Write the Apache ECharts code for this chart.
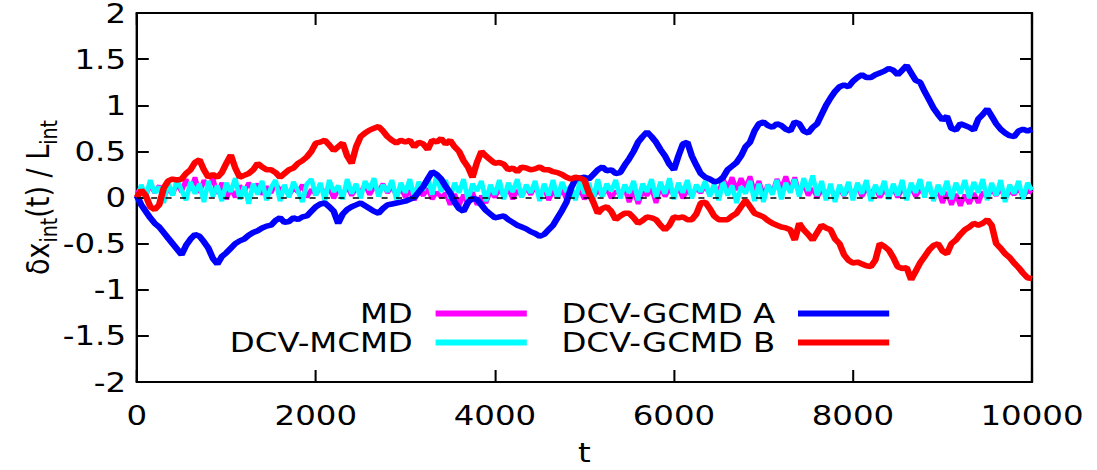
<!DOCTYPE html>
<html>
<head>
<meta charset="utf-8">
<script src="https://cdn.jsdelivr.net/npm/echarts@6/dist/echarts.min.js"></script>
<style>
html,body{margin:0;padding:0;background:#fff;overflow:hidden;}
#wrap{width:1097px;height:470px;overflow:hidden;}
#chart{width:914px;height:470px;transform:scaleX(1.2);transform-origin:0 0;}
</style>
</head>
<body>
<div id="wrap"><div id="chart"></div></div>
<script>
// time step between samples (t units)
const tStep = 50;
const xTicks = [0, 2000, 4000, 6000, 8000, 10000];
const yTicks = [-2, -1.5, -1, -0.5, 0, 0.5, 1, 1.5, 2];
const seriesNames = ['MD', 'DCV-MCMD', 'DCV-GCMD A', 'DCV-GCMD B'];

const md = [
 0.04, 0.12, 0.02, 0.14, 0.05, 0.13, 0.0, 0.1, 0.03, 0.15,
 0.06, 0.2, 0.08, 0.22, 0.05, 0.19, 0.1, 0.21, 0.04, 0.16,
 -0.02, 0.1, 0.0, 0.13, 0.06, 0.16, 0.08, 0.15, 0.03, 0.12,
 0.05, 0.15, 0.08, 0.12, 0.02, 0.1, 0.06, 0.14, 0.0, 0.09,
 0.03, 0.12, 0.05, 0.1, -0.01, 0.08, 0.04, 0.12, 0.02, 0.1,
 0.06, 0.14, 0.03, 0.11, 0.07, 0.15, 0.05, 0.12, 0.02, 0.1,
 0.0, 0.08, -0.03, 0.07, 0.02, 0.1, -0.02, 0.06, 0.0, 0.05,
 -0.08, 0.04, -0.09, 0.03, -0.07, 0.06, -0.08, 0.02, -0.06, 0.07,
 0.0, 0.09, 0.02, 0.1, -0.02, 0.08, 0.01, 0.11, 0.03, 0.12,
 0.02, 0.1, -0.03, 0.07, 0.0, 0.09, -0.02, 0.06, 0.01, 0.08,
 -0.02, 0.06, 0.0, 0.08, 0.02, 0.1, -0.01, 0.07, 0.03, 0.1,
 -0.05, 0.08, -0.07, 0.06, 0.02, 0.1, -0.06, 0.12, 0.01, 0.09,
 0.03, 0.11, -0.01, 0.08, 0.02, 0.1, 0.05, 0.13, 0.03, 0.12,
 0.06, 0.2, 0.1, 0.22, 0.08, 0.21, 0.1, 0.23, 0.06, 0.18,
 0.02, 0.14, 0.05, 0.2, 0.1, 0.23, 0.08, 0.22, 0.04, 0.15,
 0.02, 0.1, 0.0, 0.08, 0.03, 0.11, 0.0, 0.09, 0.02, 0.1,
 0.03, 0.12, 0.01, 0.09, 0.04, 0.11, 0.0, 0.08, 0.02, 0.1,
 0.0, 0.09, 0.03, 0.11, 0.01, 0.08, 0.04, 0.12, 0.0, 0.08,
 -0.06, 0.06, -0.08, 0.04, -0.09, 0.03, -0.07, 0.05, -0.06, 0.06,
 0.0, 0.09, 0.02, 0.1, -0.01, 0.07, 0.03, 0.11, 0.0, 0.08,
 0.05
];

const dcvMcmd = [
 -0.04, 0.14, 0.0, 0.19, 0.05, 0.12, -0.06, 0.16, 0.02, 0.2,
 0.08, -0.03, 0.17, 0.04, 0.15, -0.05, 0.18, 0.01, 0.13, -0.04,
 0.16, 0.06, 0.21, -0.02, 0.12, -0.07, 0.15, 0.03, 0.18, -0.03,
 0.11, 0.19, -0.04, 0.14, 0.0, 0.17, 0.07, -0.05, 0.15, 0.2,
 0.02, 0.16, -0.03, 0.19, 0.06, 0.13, -0.02, 0.2, 0.04, 0.15,
 -0.01, 0.18, 0.08, 0.21, 0.01, 0.14, 0.06, 0.19, -0.02, 0.16,
 0.05, 0.2, 0.0, 0.17, 0.08, 0.22, 0.03, 0.24, 0.06, 0.19,
 -0.01, 0.16, 0.05, 0.2, -0.03, 0.15, 0.07, 0.18, -0.04, 0.14,
 0.03, 0.19, -0.02, 0.16, 0.06, 0.2, 0.0, 0.14, 0.05, 0.18,
 -0.04, 0.15, 0.02, 0.19, -0.01, 0.17, 0.06, 0.13, -0.03, 0.18,
 0.04, 0.16, -0.02, 0.2, 0.01, 0.15, 0.07, 0.19, -0.01, 0.14,
 0.05, 0.18, -0.03, 0.15, 0.06, 0.2, 0.0, 0.17, 0.04, 0.21,
 -0.02, 0.16, 0.05, 0.19, -0.01, 0.14, 0.06, 0.18, 0.01, 0.15,
 -0.03, 0.17, 0.02, 0.13, -0.06, 0.12, 0.04, 0.18, -0.04, 0.15,
 -0.05, 0.14, 0.03, 0.19, -0.02, 0.16, 0.05, 0.2, 0.01, 0.21,
 0.07, 0.24, 0.02, 0.18, -0.03, 0.15, -0.05, 0.14, 0.02, 0.17,
 -0.03, 0.16, 0.04, 0.19, -0.04, 0.14, 0.03, 0.18, -0.02, 0.15,
 0.02, 0.19, -0.03, 0.16, 0.05, 0.2, 0.0, 0.17, -0.04, 0.14,
 0.03, 0.18, -0.02, 0.16, 0.04, 0.19, -0.01, 0.17, 0.05, 0.2,
 -0.03, 0.16, 0.02, 0.19, -0.05, 0.14, 0.04, 0.18, -0.02, 0.16,
 0.08
];

const gcmdA = [
 0.02, -0.08, -0.15, -0.22, -0.28, -0.32, -0.38, -0.44, -0.5, -0.56,
 -0.62, -0.52, -0.45, -0.4, -0.42, -0.48, -0.55, -0.66, -0.72, -0.64,
 -0.6, -0.55, -0.5, -0.47, -0.45, -0.41, -0.38, -0.36, -0.33, -0.31,
 -0.3, -0.25, -0.22, -0.27, -0.26, -0.22, -0.24, -0.21, -0.2, -0.15,
 -0.1, -0.07, -0.06, -0.1, -0.15, -0.28, -0.18, -0.13, -0.1, -0.08,
 -0.06, -0.09, -0.12, -0.15, -0.17, -0.12, -0.08, -0.07, -0.06, -0.05,
 -0.04, -0.02, 0.0, 0.06, 0.12, 0.2, 0.28, 0.25, 0.2, 0.12,
 0.05, -0.05, -0.12, -0.15, -0.05, -0.01, -0.02, -0.08, -0.14, -0.18,
 -0.22, -0.21, -0.2, -0.24, -0.27, -0.3, -0.32, -0.34, -0.37, -0.39,
 -0.42, -0.4, -0.35, -0.3, -0.22, -0.14, -0.05, 0.1, 0.2, 0.21,
 0.22, 0.2, 0.25, 0.3, 0.33, 0.29, 0.3, 0.26, 0.27, 0.35,
 0.42, 0.5, 0.6, 0.66, 0.71, 0.66, 0.6, 0.52, 0.45, 0.36,
 0.3, 0.45, 0.58, 0.6, 0.45, 0.35, 0.26, 0.22, 0.2, 0.17,
 0.18, 0.22, 0.3, 0.34, 0.38, 0.45, 0.55, 0.6, 0.72, 0.8,
 0.82, 0.78, 0.76, 0.8, 0.78, 0.74, 0.72, 0.82, 0.8, 0.72,
 0.7, 0.76, 0.8, 0.9, 1.0, 1.08, 1.15, 1.2, 1.22, 1.2,
 1.26, 1.3, 1.33, 1.3, 1.3, 1.33, 1.35, 1.37, 1.4, 1.38,
 1.33, 1.38, 1.43, 1.35, 1.27, 1.25, 1.15, 1.06, 0.97, 0.9,
 0.84, 0.88, 0.75, 0.73, 0.8, 0.78, 0.76, 0.73, 0.85, 0.9,
 0.96, 0.88, 0.8, 0.74, 0.7, 0.67, 0.66, 0.72, 0.74, 0.72,
 0.74
];

const gcmdB = [
 0.0, 0.08, 0.02, -0.1, -0.13, -0.08, 0.1, 0.18, 0.2, 0.19,
 0.2, 0.26, 0.3, 0.38, 0.41, 0.3, 0.22, 0.25, 0.22, 0.27,
 0.37, 0.46, 0.32, 0.22, 0.24, 0.26, 0.3, 0.37, 0.33, 0.3,
 0.3, 0.27, 0.22, 0.26, 0.3, 0.32, 0.37, 0.4, 0.44, 0.5,
 0.59, 0.6, 0.62, 0.57, 0.51, 0.55, 0.59, 0.45, 0.37, 0.55,
 0.66, 0.7, 0.73, 0.75, 0.77, 0.72, 0.66, 0.62, 0.59, 0.62,
 0.6, 0.62, 0.55, 0.6, 0.58, 0.52, 0.62, 0.6, 0.64, 0.58,
 0.62, 0.55, 0.5, 0.4, 0.33, 0.22, 0.38, 0.5, 0.45, 0.41,
 0.37, 0.38, 0.36, 0.3, 0.32, 0.28, 0.33, 0.32, 0.3, 0.31,
 0.33, 0.3, 0.3, 0.28, 0.27, 0.25, 0.22, 0.2, 0.22, 0.21,
 0.19, 0.05, -0.05, -0.17, -0.12, -0.1, -0.15, -0.24, -0.2, -0.17,
 -0.17, -0.22, -0.28, -0.25, -0.21, -0.22, -0.24, -0.3, -0.35, -0.3,
 -0.21, -0.22, -0.21, -0.24, -0.24, -0.18, -0.06, -0.05, -0.12, -0.2,
 -0.24, -0.24, -0.24, -0.2, -0.17, -0.1, -0.03, -0.1, -0.17, -0.19,
 -0.21, -0.25, -0.28, -0.3, -0.32, -0.33, -0.35, -0.46, -0.28, -0.35,
 -0.4, -0.46, -0.38, -0.3, -0.33, -0.35, -0.45, -0.5, -0.62, -0.68,
 -0.71, -0.7, -0.72, -0.74, -0.75, -0.68, -0.5, -0.53, -0.57, -0.65,
 -0.75, -0.77, -0.76, -0.89, -0.8, -0.71, -0.64, -0.57, -0.52, -0.5,
 -0.58, -0.61, -0.5, -0.46, -0.4, -0.35, -0.32, -0.28, -0.3, -0.28,
 -0.24, -0.3, -0.5, -0.55, -0.61, -0.65, -0.71, -0.76, -0.82, -0.87,
 -0.88
];

const colors = ['#ff00ff', '#00ffff', '#0000ff', '#ff0000'];
const FONT = 'DejaVu Sans';

function pairs(vals) { return vals.map((v, i) => [i * tStep, v]); }

const chart = echarts.init(document.getElementById('chart'), null, {renderer: 'svg'});

function axisLineStyle() {
  return {show: true, onZero: false, lineStyle: {color: '#000', width: 2}};
}

function legendItem(name, color, right, top) {
  return {
    data: [{name: name, itemStyle: {color: color}}],
    right: right, top: top, align: 'right', orient: 'horizontal',
    icon: 'rect', itemWidth: 76, itemHeight: 6, selectedMode: false,
    padding: 0,
    textStyle: {fontFamily: FONT, fontSize: 27, color: '#000', padding: [0, 14, 0, 0]}
  };
}

chart.setOption({
  animation: false,
  backgroundColor: '#fff',
  grid: {left: 114, right: 54, top: 13, bottom: 88, containLabel: false, outerBoundsMode: 'none'},
  legend: [
    legendItem(seriesNames[0], colors[0], 475, 300),
    legendItem(seriesNames[1], colors[1], 475, 329),
    legendItem(seriesNames[2], colors[2], 173, 300),
    legendItem(seriesNames[3], colors[3], 173, 329)
  ],
  xAxis: [
    {
      type: 'value', min: xTicks[0], max: xTicks[xTicks.length - 1], interval: 2000,
      position: 'bottom',
      axisLine: axisLineStyle(), splitLine: {show: false},
      name: 't', nameLocation: 'middle', nameGap: 57, nameMoveOverlap: false,
      nameTextStyle: {fontFamily: FONT, fontSize: 27, color: '#000'},
      axisTick: {show: true, inside: true, length: 12, lineStyle: {color: '#000', width: 1.7}},
      axisLabel: {fontFamily: FONT, fontSize: 27, color: '#000', margin: 20,
                  formatter: function (v) { return String(v); }}
    },
    {
      type: 'value', min: xTicks[0], max: xTicks[xTicks.length - 1], interval: 2000,
      position: 'top',
      axisLine: axisLineStyle(), splitLine: {show: false},
      axisTick: {show: true, inside: true, length: 12, lineStyle: {color: '#000', width: 1.7}},
      axisLabel: {show: false}
    }
  ],
  yAxis: [
    {
      type: 'value', min: yTicks[0], max: yTicks[yTicks.length - 1], interval: 0.5,
      position: 'left',
      axisLine: axisLineStyle(), splitLine: {show: false},
      name: '{n|δx}{s|int}{n|(t) / L}{s|int}', nameLocation: 'middle', nameGap: 66, nameRotate: 90,
      nameMoveOverlap: false,
      nameTextStyle: {
        fontFamily: FONT, fontSize: 27, color: '#000',
        rich: {
          n: {fontFamily: FONT, fontSize: 27, color: '#000', lineHeight: 30, verticalAlign: 'top'},
          s: {fontFamily: FONT, fontSize: 19, color: '#000', lineHeight: 19, verticalAlign: 'top', padding: [14, 0, 0, 0]}
        }
      },
      axisTick: {show: true, inside: true, length: 10, lineStyle: {color: '#000', width: 2}},
      axisLabel: {fontFamily: FONT, fontSize: 27, lineHeight: 24, color: '#000', margin: 9}
    },
    {
      type: 'value', min: yTicks[0], max: yTicks[yTicks.length - 1], interval: 0.5,
      position: 'right',
      axisLine: axisLineStyle(), splitLine: {show: false},
      axisTick: {show: true, inside: true, length: 10, lineStyle: {color: '#000', width: 2}},
      axisLabel: {show: false}
    }
  ],
  series: [
    {
      name: 'zero', type: 'line', data: [], silent: true,
      markLine: {
        silent: true, symbol: 'none', label: {show: false},
        lineStyle: {type: [5, 7], color: '#000', width: 1.5},
        data: [{yAxis: 0}]
      }
    },
    {name: seriesNames[0], type: 'line', data: pairs(md), showSymbol: false, symbol: 'none',
     lineStyle: {color: colors[0], width: 4}, itemStyle: {color: colors[0]}},
    {name: seriesNames[1], type: 'line', data: pairs(dcvMcmd), showSymbol: false, symbol: 'none',
     lineStyle: {color: colors[1], width: 4}, itemStyle: {color: colors[1]}},
    {name: seriesNames[2], type: 'line', data: pairs(gcmdA), showSymbol: false, symbol: 'none',
     lineStyle: {color: colors[2], width: 5.5}, itemStyle: {color: colors[2]}},
    {name: seriesNames[3], type: 'line', data: pairs(gcmdB), showSymbol: false, symbol: 'none',
     lineStyle: {color: colors[3], width: 5.5}, itemStyle: {color: colors[3]}}
  ]
});
</script>
</body>
</html>
